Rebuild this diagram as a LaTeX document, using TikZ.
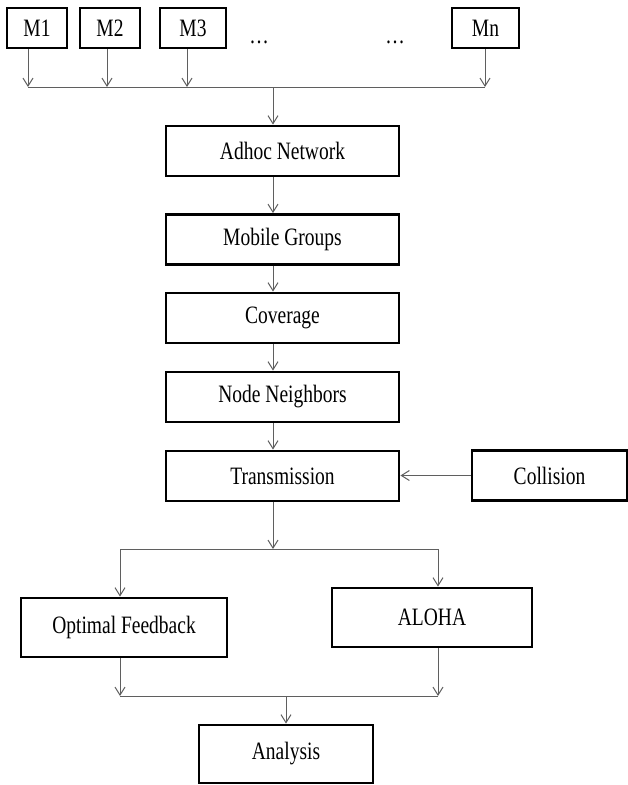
\documentclass[tikz,border=0pt]{standalone}
\usepackage{fontspec}
\setmainfont[FakeStretch=0.78]{Liberation Serif}
\usetikzlibrary{arrows.meta,positioning,calc}
\definecolor{Wire}{RGB}{95,95,95}
\tikzset{
  box/.style={draw=black,line width=2.9pt,fill=white,inner sep=0pt,minimum height=50pt,font=\fontsize{25}{28}\selectfont},
  mbox/.style={box,minimum height=40pt},
  wire/.style={draw=Wire,line width=1pt},
  arr/.style={wire,-{Straight Barb[length=8pt,width=10pt]}},
}

\begin{document}
\begin{tikzpicture}[x=1pt,y=-1pt]
  \useasboundingbox (0,0) rectangle (627,785);

  % --- mobile nodes ---
  \node[mbox, minimum width=60pt] (m1) at (37,28) {M1};
  \node[mbox, minimum width=60pt] (m2) at (110,28) {M2};
  \node[mbox, minimum width=66pt] (m3) at (193,28) {M3};
  \node[mbox, minimum width=67pt] (mn) at (485.5,28) {Mn};
  \node[anchor=base, font=\fontsize{25}{28}\selectfont] (dots1) at (259,43) {\ldots};
  \node[anchor=base, font=\fontsize{25}{28}\selectfont] (dots2) at (395,43) {\ldots};

  \coordinate (t1) at (28,87);
  \coordinate (t2) at (107,87);
  \coordinate (t3) at (187,87);
  \coordinate (tn) at (485,87);
  \coordinate (tc) at (273,87);

  \draw[arr] (m1.south -| t1) -- (t1);
  \draw[arr] (m2.south -| t2) -- (t2);
  \draw[arr] (m3.south -| t3) -- (t3);
  \draw[arr] (mn.south -| tn) -- (tn);
  \draw[wire] (t1) -- (tn);

  % --- main chain ---
  \node[box, minimum width=233pt] (adhoc) at (282.5,151) {Adhoc Network};
  \node[box, minimum width=233pt] (groups) at (282.5,239.5) {Mobile Groups};
  \node[box, minimum width=233pt] (cover) at (282.5,318) {Coverage};
  \node[box, minimum width=233pt] (neigh) at (282.5,397) {Node Neighbors};
  \node[box, minimum width=233pt] (trans) at (282.5,476) {Transmission};
  \node[box, minimum width=155pt] (coll) at (549.5,475.5) {Collision};

  \draw[arr] (tc) -- (adhoc.north -| tc);
  \foreach \a/\b in {adhoc/groups,groups/cover,cover/neigh,neigh/trans}
    \draw[arr] (\a.south -| tc) -- (\b.north -| tc);
  \draw[arr] (coll.west) -- (trans.east |- coll.west);

  % --- split ---
  \node[box, minimum width=206pt, minimum height=59pt] (optfb) at (124,627.5) {Optimal Feedback};
  \node[box, minimum width=200pt, minimum height=59pt] (aloha) at (432,617.5) {ALOHA};

  \coordinate (s) at (273,549);
  \coordinate (sl) at (120,549);
  \coordinate (sr) at (438,549);
  \draw[arr] (trans.south -| s) -- (s);
  \draw[wire] (sl) -- (sr);
  \draw[arr] (sl) -- (optfb.north -| sl);
  \draw[arr] (sr) -- (aloha.north -| sr);

  % --- join ---
  \node[box, minimum width=174pt, minimum height=58pt] (analysis) at (286,754) {Analysis};

  \coordinate (jl) at (120,696);
  \coordinate (jr) at (438,696);
  \coordinate (jc) at (286,696);
  \draw[arr] (optfb.south -| jl) -- (jl);
  \draw[arr] (aloha.south -| jr) -- (jr);
  \draw[wire] (jl) -- (jr);
  \draw[arr] (jc) -- (analysis.north);
\end{tikzpicture}
\end{document}
